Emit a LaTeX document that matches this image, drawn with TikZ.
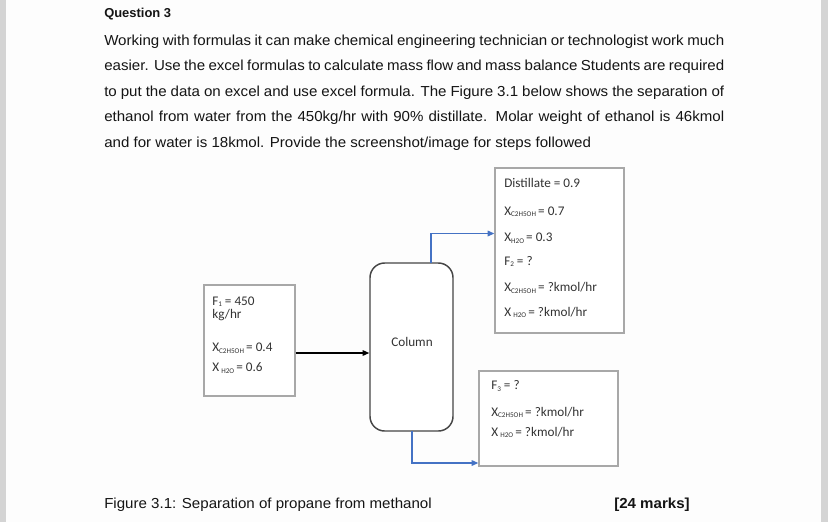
\documentclass[tikz,border=0pt]{standalone}
\usepackage{fontspec}
\setmainfont{Liberation Sans}[FakeStretch=1.04]
\newfontfamily\qfont{Liberation Sans}
\newfontfamily\calfont{Carlito}
\usetikzlibrary{arrows.meta}
\newlength\pxu
\setlength\pxu{0.75pt}
\definecolor{bodytxt}{HTML}{151515}
\definecolor{diagtxt}{HTML}{333333}
\definecolor{boxgray}{HTML}{A8A8A8}
\definecolor{colgray}{HTML}{454545}
\definecolor{flowblue}{HTML}{4472C4}
\definecolor{stripgray}{HTML}{D4D4D4}
\definecolor{bgwhite}{HTML}{FDFDFD}
\newcommand{\sbs}[1]{\raisebox{-0.25ex}{\fontsize{5.4}{5.4}\selectfont #1}}
\begin{document}
\begin{tikzpicture}[x=0.75pt,y=-0.75pt,
  bodyline/.style={anchor=base west,inner sep=0pt,text=bodytxt,font=\fontsize{10.875}{13}\selectfont},
  dtext/.style={anchor=base west,inner sep=0pt,text=diagtxt,font=\calfont\fontsize{9.9}{11}\selectfont},
  databox/.style={draw=boxgray,line width=1pt,fill=white,inner sep=0pt},
  colbox/.style={draw=colgray,line width=1.1pt,rounded corners=11pt,fill=white,inner sep=0pt},
  blueflow/.style={draw=flowblue,line width=1pt,-{Triangle[length=5pt,width=4.2pt]}},
  blackflow/.style={draw=black,line width=1pt,-{Triangle[length=5pt,width=4.2pt]}}
]
\useasboundingbox (0,0) rectangle (828,522);
\fill[bgwhite] (0,0) rectangle (828,522);
\fill[stripgray] (0,0) rectangle (5.5,522);
\fill[stripgray] (821,0) rectangle (828,522);

% Header text
\node[anchor=base west,inner sep=0pt,text=bodytxt,font=\qfont\bfseries\fontsize{9.7}{11}\selectfont] (q) at (104,17.5) {Question 3};
\node[bodyline] (l1) at (104,45) {\makebox[620\pxu][s]{Working with formulas it can make chemical engineering technician or technologist work much}};
\node[bodyline] (l2) at (104,70.5) {\makebox[620\pxu][s]{easier. Use the excel formulas to calculate mass flow and mass balance Students are required}};
\node[bodyline] (l3) at (104,96) {\makebox[620\pxu][s]{to put the data on excel and use excel formula. The Figure 3.1 below shows the separation of}};
\node[bodyline] (l4) at (104,121.5) {\makebox[620\pxu][s]{ethanol from water from the 450kg/hr with 90\% distillate. Molar weight of ethanol is 46kmol}};
\node[bodyline] (l5) at (104,147) {and for water is 18kmol. Provide the screenshot/image for steps followed};

% Boxes
\node[databox,minimum width=129\pxu,minimum height=165\pxu] (dist) at (559.5,250.5) {};
\node[databox,minimum width=91\pxu,minimum height=111\pxu] (feed) at (249.5,340.5) {};
\node[databox,minimum width=139\pxu,minimum height=95\pxu] (bott) at (548.5,418.5) {};
\node[colbox,minimum width=83\pxu,minimum height=168\pxu] (col) at (411.5,347) {};
\node[inner sep=0pt,text=diagtxt,font=\calfont\fontsize{9.9}{11}\selectfont] (coltxt) at (412,342) {Column};

% Distillate box text
\node[dtext] (d1) at (504,187) {Distillate = 0.9};
\node[dtext] (d2) at (504,215) {X\sbs{C2H5OH}\,= 0.7};
\node[dtext] (d3) at (504,241.5) {X\sbs{H2O}\,= 0.3};
\node[dtext] (d4) at (504,265) {F\sbs{2} = ?};
\node[dtext] (d5) at (504,291.5) {X\sbs{C2H5OH}\,= ?kmol/hr};
\node[dtext] (d6) at (504,316) {X\,\sbs{H2O}\,= ?kmol/hr};

% Feed box text
\node[dtext] (f1) at (212,305) {F\sbs{1} = 450};
\node[dtext] (f2) at (212,318) {kg/hr};
\node[dtext] (f3) at (212,351.5) {X\sbs{C2H5OH}\,= 0.4};
\node[dtext] (f4) at (212,371.5) {X\,\sbs{H2O}\,= 0.6};

% Bottom box text
\node[dtext] (b1) at (491,389.5) {F\sbs{3} = ?};
\node[dtext] (b2) at (491,416) {X\sbs{C2H5OH}\,= ?kmol/hr};
\node[dtext] (b3) at (491,436) {X\,\sbs{H2O}\,= ?kmol/hr};

% Connectors
\coordinate (feedout) at (feed.east |- 0,353);
\coordinate (colin) at (col.west |- 0,353);
\draw[blackflow] (feedout) -- (colin);
\coordinate (ctop) at (431,263);
\coordinate (din) at (dist.west |- 0,233.5);
\draw[blueflow] (ctop) |- (din);
\coordinate (cbot) at (412,431);
\coordinate (bin) at (bott.west |- 0,463);
\draw[blueflow] (cbot) |- (bin);

% Caption
\node[bodyline] (cap) at (104,508) {Figure 3.1: Separation of propane from methanol};
\node[bodyline,font=\bfseries\fontsize{10.875}{13}\selectfont] (marks) at (614,508) {[24 marks]};
\end{tikzpicture}
\end{document}
